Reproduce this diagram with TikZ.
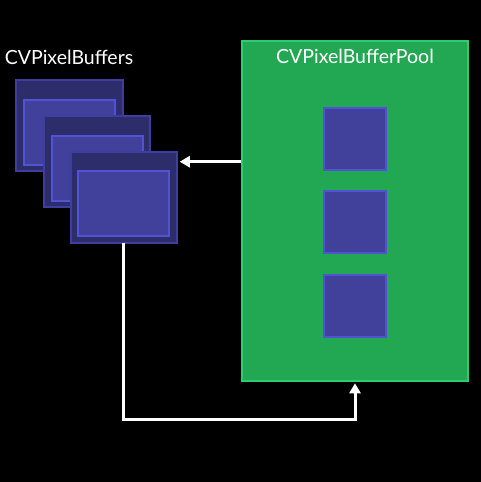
\documentclass[tikz,border=0pt]{standalone}
\usepackage{fontspec}
\setmainfont{Lato}
\usetikzlibrary{arrows.meta}
\definecolor{poolfill}{RGB}{34,168,83}
\definecolor{poolline}{RGB}{46,204,110}
\definecolor{framefill}{RGB}{45,45,108}
\definecolor{frameline}{RGB}{62,62,160}
\definecolor{innerfill}{RGB}{65,65,155}
\definecolor{innerline}{RGB}{82,82,212}
\tikzset{
  box/.style={rectangle, inner sep=0pt, outer sep=0pt, line width=2pt},
  pool/.style={box, fill=poolfill, draw=poolline, minimum width=226pt, minimum height=340pt},
  frame/.style={box, fill=framefill, draw=frameline, minimum width=106.5pt, minimum height=90.5pt},
  inner/.style={box, fill=innerfill, draw=innerline, minimum width=91pt, minimum height=65pt},
  cell/.style={box, fill=innerfill, draw=innerline, minimum width=62pt, minimum height=62pt},
  lbl/.style={text=white, font=\fontsize{19.5pt}{22pt}\selectfont, inner sep=0pt},
  conn/.style={draw=white, line width=3pt, -{Triangle[width=11pt,length=10pt]}}
}
\begin{document}
\begin{tikzpicture}[x=1pt,y=-1pt]
\fill[black] (0,0) rectangle (481,482);
\useasboundingbox (0,0) rectangle (481,482);
\node[pool] (pool) at (355,210.8) {};
\node[cell] (c1) at (354.5,138.5) {};
\node[cell] (c2) at (354.5,222.3) {};
\node[cell] (c3) at (354.5,305.8) {};
\node[lbl, anchor=base] (plbl) at (355,63.7) {CVPixelBufferPool};
\node[lbl, anchor=base west] (blbl) at (4.7,64.3) {CVPixelBuffers};
\node[frame] (f1) at (69.5,125.5) {};
\node[inner] (i1) at (69.5,132.2) {};
\node[frame] (f2) at (97,161.5) {};
\node[inner] (i2) at (97,168.2) {};
\node[frame] (f3) at (124,197.4) {};
\node[inner] (i3) at (123.5,203.6) {};
\coordinate (a1) at (241,161.7);
\coordinate (b1) at (123.3,419.3);
\draw[conn, shorten >=2.5pt] (a1) -- (f3.east |- a1);
\draw[conn, shorten >=2.5pt] (f3.south -| b1) -- (b1) -| (pool.south);
\end{tikzpicture}
\end{document}
